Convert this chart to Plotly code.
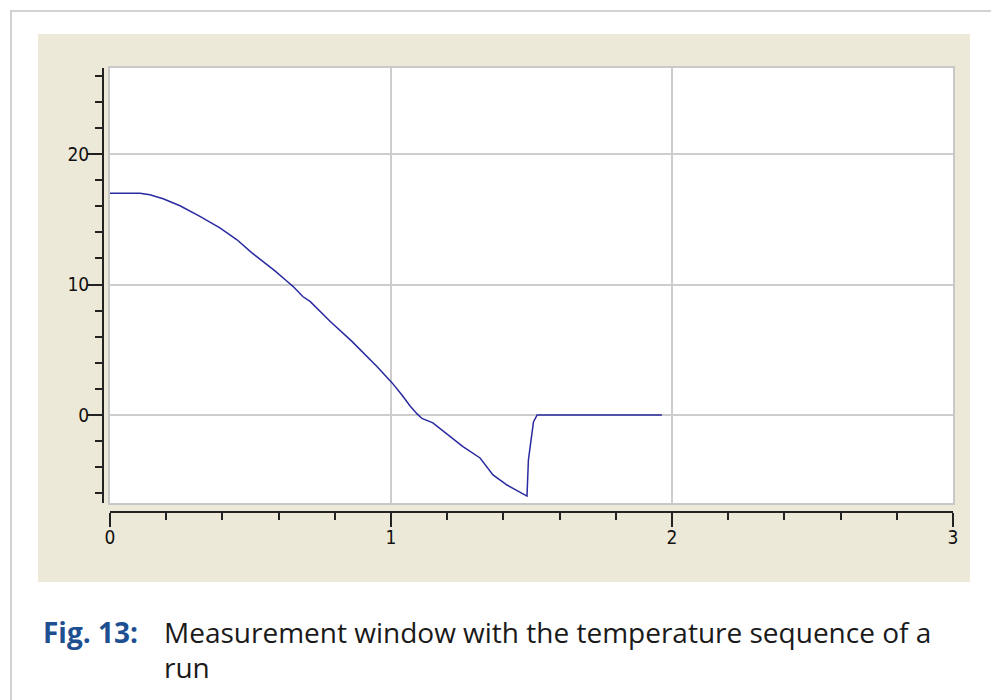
import plotly.graph_objects as go

# Time (x axis units) and temperature values
time_x = [0.000, 0.107, 0.142, 0.189, 0.249, 0.320, 0.391, 0.452, 0.505, 0.544,
          0.587, 0.630, 0.651, 0.687, 0.712, 0.783, 0.843, 0.861, 0.950, 1.004,
          1.039, 1.068, 1.093, 1.110, 1.149, 1.256, 1.317, 1.363, 1.413, 1.484,
          1.489, 1.500, 1.507, 1.520, 1.964]
temp_y = [17.00, 17.00, 16.88, 16.58, 16.04, 15.23, 14.35, 13.43, 12.43, 11.78,
          11.05, 10.25, 9.86, 9.06, 8.71, 7.18, 5.99, 5.64, 3.72, 2.46,
          1.53, 0.69, 0.08, -0.27, -0.61, -2.42, -3.30, -4.60, -5.37, -6.22,
          -3.45, -1.69, -0.54, 0.00, 0.00]

x_range = [0, 3]
y_range = [-6.75, 26.6]
caption_label = "Fig. 13:"
caption_line1 = "Measurement window with the temperature sequence of a"
caption_line2 = "run"

OFF = 8  # page body margin
W, H = 991, 692
L, R, T, B = 95, 46, 60, 188
PW = W - L - R   # 850
PH = H - T - B   # 444

def fx(px):
    return (px - OFF - L) / PW

def fy(py):
    return (H - B - (py - OFF)) / PH

tick_font = dict(family="Liberation Sans Narrow, Arial Narrow, DejaVu Sans Condensed, sans-serif",
                 size=19, color="#111111")
cap_font = "Open Sans, Lato, Noto Sans, sans-serif"

fig = go.Figure()
fig.add_trace(go.Scatter(x=time_x, y=temp_y, mode="lines",
                         line=dict(color="#2a2aa0", width=1.5),
                         showlegend=False, hoverinfo="x+y"))
fig.add_trace(go.Scatter(x=[None], y=[None], xaxis="x2", yaxis="y2",
                         mode="lines", showlegend=False, hoverinfo="skip"))

grid = "#cdcdcd"
fig.update_layout(
    width=W, height=H,
    margin=dict(l=L, r=R, t=T, b=B),
    paper_bgcolor="white",
    plot_bgcolor="white",
    xaxis=dict(domain=[fx(110), 1], range=x_range, dtick=1, tick0=0,
               showticklabels=False, ticks="", showgrid=True, gridcolor=grid,
               gridwidth=1.5, zeroline=False, showline=True, mirror=True,
               linecolor="#c8c8c8", linewidth=2, fixedrange=True),
    yaxis=dict(domain=[fy(503), 1], range=y_range, dtick=10, tick0=0,
               showticklabels=False, ticks="", showgrid=True, gridcolor=grid,
               gridwidth=1.5, zeroline=False, showline=True, mirror=True,
               linecolor="#c8c8c8", linewidth=2, fixedrange=True),
    xaxis2=dict(overlaying="x", anchor="free", position=0, side="bottom",
                range=x_range, dtick=1, tick0=0, ticks="outside", ticklen=14,
                tickwidth=1.5, tickcolor="#222222", showline=True,
                linecolor="#222222", linewidth=2, showgrid=False, zeroline=False,
                tickfont=tick_font, ticklabelstandoff=-6,
                minor=dict(dtick=0.2, tick0=0, ticks="outside", ticklen=7,
                           tickwidth=1.5, tickcolor="#222222", showgrid=False)),
    yaxis2=dict(overlaying="y", anchor="free", position=0, side="left",
                range=y_range, dtick=10, tick0=0, ticks="outside", ticklen=15,
                tickwidth=1.5, tickcolor="#222222", showline=True,
                linecolor="#222222", linewidth=2, showgrid=False, zeroline=False,
                tickfont=tick_font, ticklabelstandoff=-6,
                minor=dict(dtick=2, tick0=0, ticks="outside", ticklen=7,
                           tickwidth=1.5, tickcolor="#222222", showgrid=False)),
    shapes=[
        dict(type="rect", xref="paper", yref="paper", layer="below",
             x0=fx(11), x1=fx(995), y0=fy(740), y1=fy(11),
             line=dict(color="#d2d2d2", width=2), fillcolor="white"),
        dict(type="rect", xref="paper", yref="paper", layer="below",
             x0=fx(38), x1=fx(970), y0=fy(582), y1=fy(34),
             line=dict(width=0), fillcolor="#ECE9D8"),
        dict(type="rect", xref="x domain", yref="y domain", layer="below",
             x0=0, x1=1, y0=0, y1=1, line=dict(width=0), fillcolor="white"),
    ],
    annotations=[
        dict(xref="paper", yref="paper", x=fx(41), y=fy(632), xanchor="left",
             yanchor="middle", showarrow=False, text="<b>" + caption_label + "</b>",
             font=dict(family=cap_font, size=28, color="#1d4f91")),
        dict(xref="paper", yref="paper", x=fx(162), y=fy(632), xanchor="left",
             yanchor="middle", showarrow=False, text=caption_line1,
             font=dict(family=cap_font, size=28, color="#1a1a1a")),
        dict(xref="paper", yref="paper", x=fx(162), y=fy(667), xanchor="left",
             yanchor="middle", showarrow=False, text=caption_line2,
             font=dict(family=cap_font, size=28, color="#1a1a1a")),
    ],
)

fig.write_html("out.html")
